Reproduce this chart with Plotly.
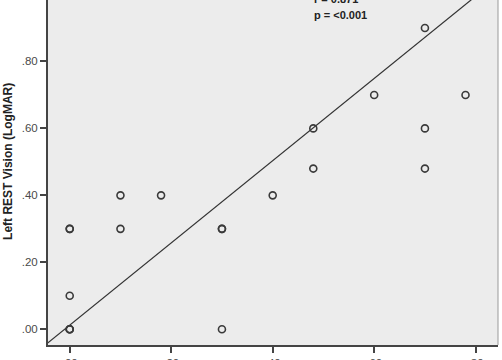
import plotly.graph_objects as go

# Data
x_vals = [0.00, 0.00, 0.00, 0.00, 0.00, 0.00, 0.10, 0.10, 0.18, 0.30, 0.30, 0.30,
          0.40, 0.48, 0.48, 0.60, 0.70, 0.70, 0.70, 0.78]
y_vals = [0.00, 0.00, 0.10, 0.30, 0.30, 0.00, 0.40, 0.30, 0.40, 0.30, 0.30, 0.00,
          0.40, 0.60, 0.48, 0.70, 0.90, 0.60, 0.48, 0.70]

fit_slope = 1.228
fit_intercept = 0.0125
fit_x = [-0.05, 0.90]
fit_y = [fit_intercept + fit_slope * v for v in fit_x]

tick_vals = [0.0, 0.2, 0.4, 0.6, 0.8, 1.0]
tick_text = [".00", ".20", ".40", ".60", ".80", "1.00"]

stats_lines = ["r = 0.871", "p = <0.001"]
y_title = "Left REST Vision (LogMAR)"

fig = go.Figure()
fig.add_trace(go.Scatter(x=fit_x, y=fit_y, mode="lines",
                         line=dict(color="#333333", width=1.2),
                         hoverinfo="skip", showlegend=False))
fig.add_trace(go.Scatter(x=x_vals, y=y_vals, mode="markers",
                         marker=dict(symbol="circle-open", size=7, color="#3a3a3a",
                                     line=dict(color="#3a3a3a", width=1.6)),
                         showlegend=False))

axis_font = dict(family="Liberation Sans, Arial, sans-serif", size=11.5, color="#4a4a4a")
text_font = dict(family="Liberation Sans, Arial, sans-serif", size=11, color="#222222")

fig.update_layout(
    width=502, height=360,
    margin=dict(l=48, r=4, t=0, b=15, autoexpand=False),
    paper_bgcolor="white",
    plot_bgcolor="#ECECEC",
    font=axis_font,
    xaxis=dict(range=[-0.0428, 0.844], tickvals=tick_vals, ticktext=tick_text,
               showgrid=False, zeroline=False, showline=True, linecolor="#444444",
               linewidth=2, ticks="outside", ticklen=6, tickwidth=1.5,
               tickcolor="#444444", tickfont=axis_font, automargin=False),
    yaxis=dict(range=[-0.047, 0.9836], tickvals=tick_vals, ticktext=tick_text,
               showgrid=False, zeroline=False, showline=True, linecolor="#444444",
               linewidth=2, ticks="outside", ticklen=6, tickwidth=1.5,
               tickcolor="#444444", tickfont=axis_font, automargin=False,
               ticklabelstandoff=0),
    shapes=[dict(type="line", xref="paper", yref="paper", x0=1, x1=1, y0=0, y1=1,
                 line=dict(color="#9a9a9a", width=1))],
)

fig.add_annotation(x=0.477, y=1.0, xref="x", yref="paper", yshift=1,
                   text="<b>" + stats_lines[0] + "</b>",
                   showarrow=False, xanchor="left", yanchor="middle", font=text_font)
fig.add_annotation(x=0.477, y=0.939, xref="x", yref="y", text="<b>" + stats_lines[1] + "</b>",
                   showarrow=False, xanchor="left", yanchor="middle", font=text_font)
fig.add_annotation(x=0, y=0.5, xref="paper", yref="y", xshift=-40,
                   text="<b>" + y_title + "</b>",
                   showarrow=False, textangle=-90, xanchor="center", yanchor="middle",
                   font=dict(family="Liberation Sans, Arial, sans-serif", size=12, color="#222222"))

fig.write_html("out.html", config={"displayModeBar": False},
               post_script="document.body.style.margin='0';document.body.style.overflow='hidden';")
